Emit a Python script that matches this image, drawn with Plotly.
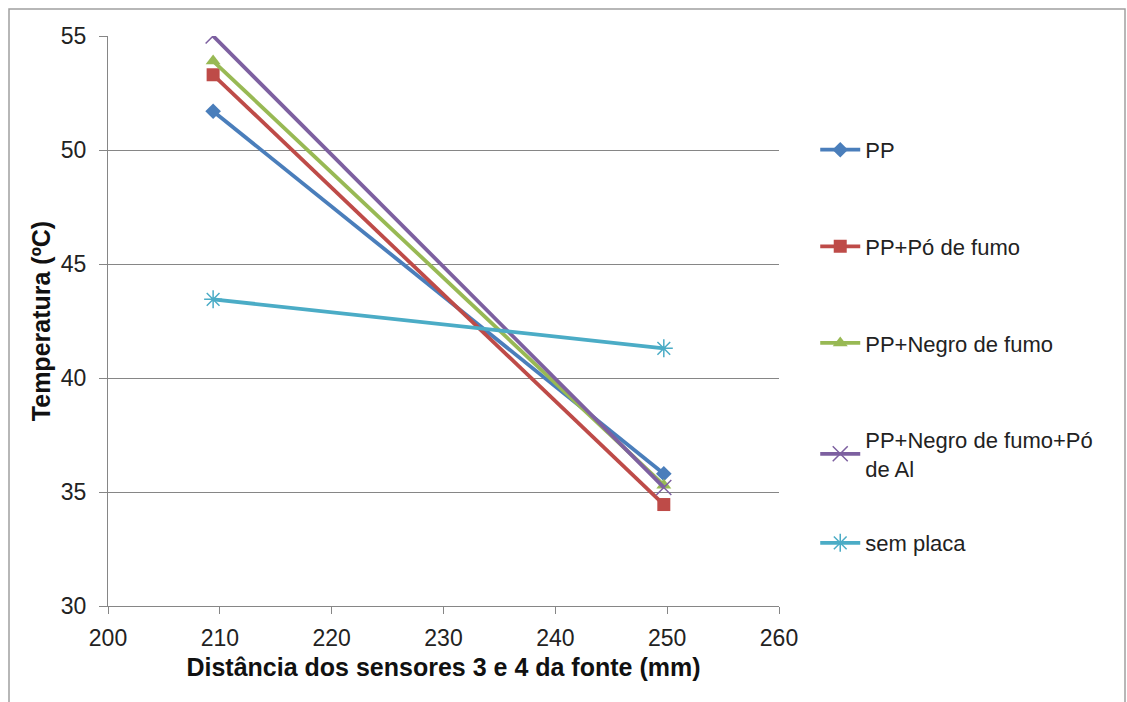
import plotly.graph_objects as go

x_vals = [209.4, 249.7]
series_names = ["PP", "PP+Pó de fumo", "PP+Negro de fumo", "PP+Negro de fumo+Pó<br>de Al", "sem placa"]
pp = [51.7, 35.8]
pp_po = [53.3, 34.45]
pp_negro = [53.9, 35.3]
pp_negro_al = [55.0, 35.2]
sem_placa = [43.45, 41.3]
series_values = [pp, pp_po, pp_negro, pp_negro_al, sem_placa]

colors = ["#4A7EBB", "#BE4B48", "#98B954", "#7D60A0", "#4BACC6"]
symbols = ["diamond", "square", "triangle-up", "x-thin", "asterisk"]
sizes = [12, 13, 13, 15, 15]
legends = ["legend", "legend", "legend", "legend", "legend2"]

fig = go.Figure()
for i, (name, vals) in enumerate(zip(series_names, series_values)):
    marker = dict(symbol=symbols[i], size=sizes[i], color=colors[i])
    if symbols[i] in ("x-thin", "asterisk"):
        marker["line"] = dict(color=colors[i], width=1.5)
    fig.add_trace(go.Scatter(
        x=x_vals, y=vals, name=name, mode="lines+markers",
        line=dict(color=colors[i], width=3.8),
        marker=marker, legendgroup=f"g{i}", legend=legends[i],
    ))

legend_common = dict(xanchor="left", yanchor="top", itemwidth=40,
                     font=dict(size=22, color="#222"), bgcolor="rgba(0,0,0,0)")

fig.update_layout(
    width=1127, height=702,
    margin=dict(l=108, r=348, t=36, b=96),
    paper_bgcolor="white", plot_bgcolor="white",
    font=dict(family="Liberation Sans, Arial, sans-serif", size=22, color="#222"),
    showlegend=True,
    legend=dict(x=1.054, y=0.837, tracegroupgap=65, **legend_common),
    legend2=dict(x=1.054, y=(606 - 522) / 570, **legend_common),
    xaxis=dict(range=[200, 260], dtick=10, showgrid=False, zeroline=False,
               showline=True, linecolor="#868686", linewidth=1.2,
               ticks="outside", ticklen=7, tickcolor="#868686",
               ticklabelstandoff=4,
               tickfont=dict(size=23, color="#222"),
               title=dict(text="<b>Distância dos sensores 3 e 4 da fonte (mm)</b>",
                          font=dict(size=25, color="#111"), standoff=8)),
    yaxis=dict(range=[30, 55], dtick=5, showgrid=True, gridcolor="#868686", gridwidth=1.2,
               zeroline=False, showline=True, linecolor="#868686", linewidth=1.2,
               ticks="outside", ticklen=8, tickcolor="#868686",
               ticklabelstandoff=8,
               tickfont=dict(size=23, color="#222"),
               title=dict(text="<b>Temperatura (ºC)</b>",
                          font=dict(size=25, color="#111"), standoff=2)),
)

fig.add_shape(type="rect", xref="paper", yref="paper",
              x0=(9 - 108) / 671, x1=(1125 - 108) / 671,
              y0=(606 - 720) / 570, y1=(606 - 9) / 570,
              line=dict(color="#A0A0A0", width=1.5), layer="below")

fig.write_html("out.html")
